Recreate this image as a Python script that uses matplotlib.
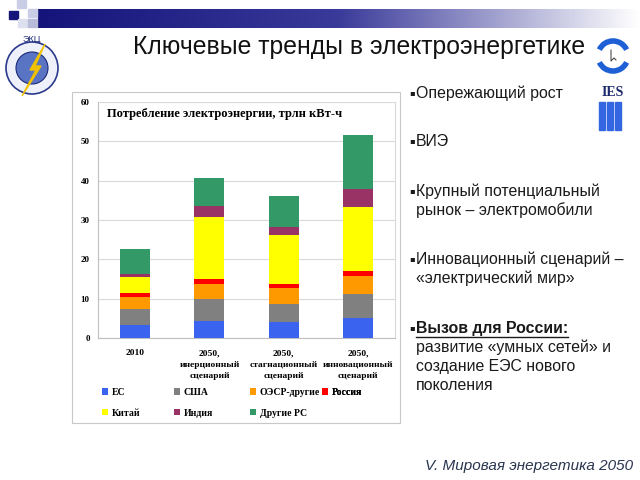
import numpy as np
import matplotlib
matplotlib.use("Agg")
import matplotlib.pyplot as plt
from matplotlib.patches import Rectangle, Circle, Arc, Polygon

# data (trillion kWh)
categories = ["2010", "2050,\nинерционный\nсценарий", "2050,\nстагнационный\nсценарий",
              "2050,\nинновационный\nсценарий"]
series_names = ["ЕС", "США", "ОЭСР-другие", "Россия", "Китай", "Индия", "Другие РС"]
eu = [3.4, 4.2, 4.0, 5.2]
usa = [4.0, 5.6, 4.7, 6.0]
oecd_other = [3.0, 4.0, 3.9, 4.5]
russia = [1.1, 1.1, 1.2, 1.4]
china = [4.0, 15.9, 12.5, 16.2]
india = [0.8, 2.8, 2.0, 4.7]
other_dev = [6.4, 7.1, 7.8, 13.5]
colors = ["#3a64f0", "#808080", "#ff9900", "#ff0000", "#ffff00", "#993366", "#339966"]

bullets = [
    ("Опережающий рост", 93),
    ("ВИЭ", 141),
    ("Крупный потенциальный\nрынок – электромобили", 191),
    ("Инновационный сценарий –\n«электрический мир»", 259),
]

W, H = 640, 480
fig = plt.figure(figsize=(6.4, 4.8), dpi=100)
fig.patch.set_facecolor("white")

# full-figure layer in pixel coordinates for the slide decoration
bg = fig.add_axes([0, 0, 1, 1])
bg.set_xlim(0, W)
bg.set_ylim(H, 0)
bg.axis("off")

# header gradient bar
grad = np.linspace(0, 1, 256)[None, :]
cmap = matplotlib.colors.LinearSegmentedColormap.from_list("hdr", ["#14147a", "#3a3a9a", "#ffffff"])
bg.imshow(grad, cmap=cmap, extent=[38, W, 28, 9], aspect="auto", zorder=1)
for (x, y, c) in [(9, 11, "#14147a"), (17, 0, "#c9cde6"), (28, 9, "#c9cde6"),
                  (18, 19, "#dde0ef"), (28, 19, "#b8bcd9")]:
    bg.add_patch(Rectangle((x, y), 9, 8, color=c, zorder=2))

# title
bg.text(359, 47, "Ключевые тренды в электроэнергетике", ha="center", va="center",
        fontsize=17.8, family="Liberation Sans", color="#111111")

# left logo (simplified)
bg.add_patch(Circle((32, 68), 26, facecolor="#eef1fa", edgecolor="#2b3a8c", lw=1.2, zorder=2))
bg.add_patch(Circle((32, 68), 16, facecolor="#5a74c4", edgecolor="#1c2a7a", lw=0.8, zorder=3))
bg.add_patch(Polygon([[45, 44], [30, 70], [36, 70], [22, 96], [41, 66], [35, 66]],
                     closed=True, color="#f2c200", zorder=4))
bg.text(32, 40, "ЭКЦ", ha="center", va="center", fontsize=6.5, color="#1c2a7a",
        family="Liberation Sans", zorder=5)

# IES logo (simplified)
bg.add_patch(Arc((613, 56), 30, 30, theta1=25, theta2=155, lw=4, color="#1e5fd6"))
bg.add_patch(Arc((613, 56), 30, 30, theta1=205, theta2=335, lw=4, color="#1e5fd6"))
bg.plot([611, 611, 614, 616], [50, 61, 58, 60], color="#333333", lw=0.7)
bg.text(613, 92, "IES", ha="center", va="center", fontsize=10, fontweight="bold",
        family="Liberation Serif", color="#1c2a6a")
for bx in [599, 607, 615]:
    bg.add_patch(Rectangle((bx, 102), 6, 28, color="#3366e0"))

# chart frame
bg.add_patch(Rectangle((72, 92), 328, 331, facecolor="white", edgecolor="#c8c8c8", lw=0.8))

# right bullet text
txt_kw = dict(fontsize=11.4, family=["Liberation Sans", "DejaVu Sans"], color="#1a1a1a",
              va="center")
for text, y in bullets:
    lines = text.split("\n")
    bg.text(409, y, "▪", fontsize=6, family="DejaVu Sans", color="#1a1a1a", va="center")
    for i, ln in enumerate(lines):
        bg.text(416, y + i * 19, ln, **txt_kw)
bg.text(409, 328, "▪", fontsize=6, family="DejaVu Sans", color="#1a1a1a", va="center")
hdr = bg.text(416, 328, "Вызов для России:", fontweight="bold", **txt_kw)
for i, ln in enumerate(["развитие «умных сетей» и", "создание ЕЭС нового", "поколения"]):
    bg.text(416, 347 + i * 19, ln, **txt_kw)
fig.canvas.draw()
bb = hdr.get_window_extent().transformed(bg.transData.inverted())
bg.plot([bb.x0, bb.x1], [337, 337], color="#1a1a1a", lw=1.0)

# footer
bg.text(633, 466, "V. Мировая энергетика 2050", ha="right", va="center", fontsize=11,
        style="italic", family="Liberation Sans", color="#2a3550")

# chart axes
ax = fig.add_axes([98 / W, 1 - 338 / H, 297 / W, 236 / H])
x = np.arange(len(categories))
bottom = np.zeros(len(categories))
handles = []
for name, vals, c in zip(series_names,
                         [eu, usa, oecd_other, russia, china, india, other_dev], colors):
    h = ax.bar(x, vals, 0.405, bottom=bottom, color=c, label=name, zorder=3)
    handles.append(h)
    bottom += np.array(vals)

ax.set_xlim(-0.5, len(categories) - 0.5)
ax.set_ylim(0, 60)
ax.set_yticks(range(0, 61, 10))
ax.grid(axis="y", color="#d9d9d9", lw=0.8, zorder=0)
ax.spines["top"].set_visible(False)
ax.spines["right"].set_color("#d9d9d9")
ax.spines["left"].set_color("#bfbfbf")
ax.spines["bottom"].set_color("#bfbfbf")
ax.tick_params(axis="y", length=0, labelsize=6.5, pad=6)
ax.tick_params(axis="x", length=0, labelsize=6.8, pad=8)
ax.set_xticks(x)
ax.set_xticklabels(categories, fontweight="bold", family="Liberation Serif",
                   linespacing=1.6)
for lab in ax.get_yticklabels():
    lab.set_fontweight("bold")
    lab.set_family("Liberation Serif")

ax.text(0.03, 0.975, "Потребление электроэнергии, трлн кВт-ч", transform=ax.transAxes,
        ha="left", va="top", fontsize=9, fontweight="bold", family="Liberation Serif",
        zorder=5)

# legend: PowerPoint-like fixed-width columns, one legend per column
leg_cols = [[0, 4], [1, 5], [2, 6], [3]]
col_x = [102, 174, 250, 322]
for cols, lx in zip(leg_cols, col_x):
    leg = ax.legend([handles[i] for i in cols], [series_names[i] for i in cols],
                    loc="upper left", bbox_to_anchor=(lx / W, 1 - 388 / H),
                    bbox_transform=fig.transFigure, frameon=False,
                    prop={"family": "Liberation Serif", "weight": "bold", "size": 7},
                    handlelength=0.6, handleheight=0.6, handletextpad=0.4,
                    labelspacing=1.2, borderaxespad=0, borderpad=0)
    ax.add_artist(leg)

fig.savefig("out.png", dpi=100)
